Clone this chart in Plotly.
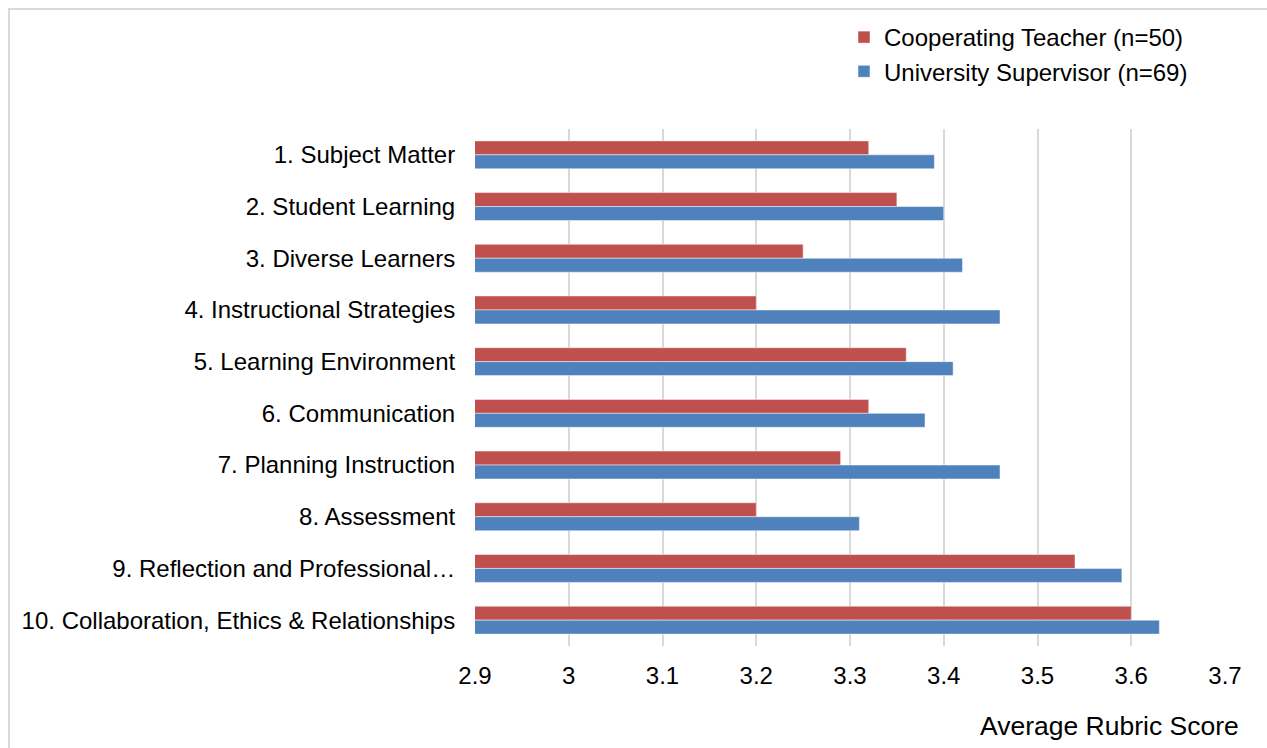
import plotly.graph_objects as go

categories = [
    "1. Subject Matter",
    "2. Student Learning",
    "3. Diverse Learners",
    "4. Instructional Strategies",
    "5. Learning Environment",
    "6. Communication",
    "7. Planning Instruction",
    "8. Assessment",
    "9. Reflection and Professional…",
    "10. Collaboration, Ethics & Relationships",
]
cooperating_teacher = [3.32, 3.35, 3.25, 3.20, 3.36, 3.32, 3.29, 3.20, 3.54, 3.60]
university_supervisor = [3.39, 3.40, 3.42, 3.46, 3.41, 3.38, 3.46, 3.31, 3.59, 3.63]
x_ticks = [2.9, 3.0, 3.1, 3.2, 3.3, 3.4, 3.5, 3.6, 3.7]
x_tick_labels = ["2.9", "3", "3.1", "3.2", "3.3", "3.4", "3.5", "3.6", "3.7"]

FONT = "Liberation Sans, Arial, sans-serif"
W, H = 1267, 748
L, R, T, B = 475, 42, 129, 102
PW, PH = W - L - R, H - T - B

fig = go.Figure()
fig.add_trace(go.Bar(
    y=categories, x=cooperating_teacher, orientation="h",
    name="Cooperating Teacher (n=50)", legendgroup="a",
    marker=dict(color="#C0504D", line=dict(color="rgba(255,255,255,0.6)", width=0.8)),
))
fig.add_trace(go.Bar(
    y=categories, x=university_supervisor, orientation="h",
    name="University Supervisor (n=69)", legendgroup="b",
    marker=dict(color="#4F81BD", line=dict(color="rgba(255,255,255,0.6)", width=0.8)),
))

def px_x(px):
    return (px - L) / PW

def px_y(py):
    return 1 - (py - T) / PH

fig.update_layout(
    width=W, height=H,
    margin=dict(l=L, r=R, t=T, b=B, pad=0),
    paper_bgcolor="white", plot_bgcolor="white",
    barmode="group", bargap=0.46, bargroupgap=0,
    font=dict(family=FONT, size=24, color="#000000"),
    legend=dict(
        x=px_x(844), y=px_y(15), xanchor="left", yanchor="top",
        traceorder="grouped", tracegroupgap=0,
        font=dict(family=FONT, size=24, color="#000000"),
        bgcolor="rgba(0,0,0,0)",
    ),
    xaxis=dict(
        range=[2.9, 3.7], tickvals=x_ticks, ticktext=x_tick_labels,
        showgrid=True, gridcolor="#D9D9D9", gridwidth=1.5,
        zeroline=False, showline=False,
        ticks="outside", ticklen=8, tickcolor="rgba(0,0,0,0)",
        tickfont=dict(family=FONT, size=24, color="#000000"),
    ),
    yaxis=dict(
        autorange="reversed", showgrid=False, zeroline=False, showline=False,
        ticks="outside", ticklen=14, tickcolor="rgba(0,0,0,0)",
        tickfont=dict(family=FONT, size=24, color="#000000"),
    ),
    annotations=[dict(
        text="Average Rubric Score", xref="paper", yref="paper",
        x=px_x(1241), y=px_y(726), xanchor="right", yanchor="middle",
        showarrow=False, font=dict(family=FONT, size=26.5, color="#000000"),
    )],
    shapes=[dict(
        type="rect", xref="paper", yref="paper",
        x0=px_x(9), x1=px_x(1290), y0=px_y(9), y1=px_y(770),
        line=dict(color="#D9D9D9", width=2), layer="below",
    )],
)

fig.write_html("out.html")
